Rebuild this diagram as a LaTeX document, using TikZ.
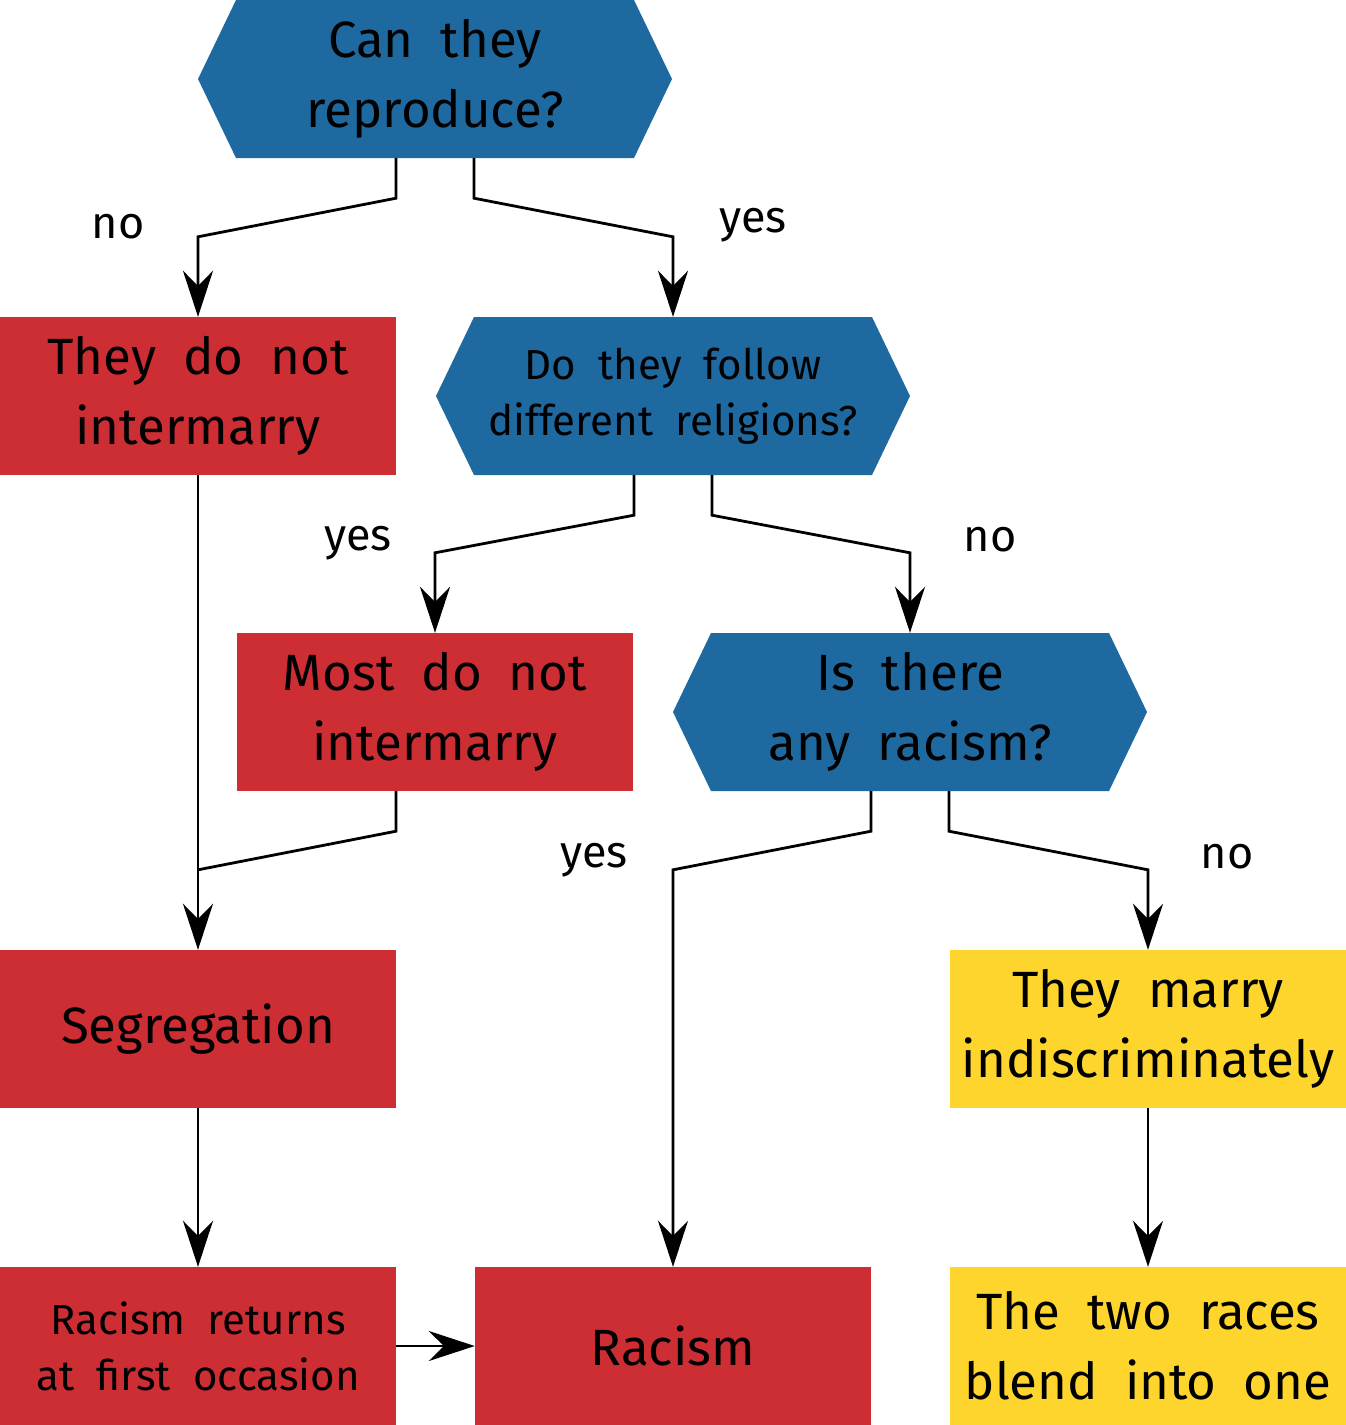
\documentclass[tikz,border=0pt]{standalone}
\usepackage{fontspec}
\setmainfont{Fira Sans}[WordSpace=2.0]
\usetikzlibrary{arrows.meta}
\definecolor{qblue}{HTML}{1F69A1}
\definecolor{qred}{HTML}{CC2E34}
\definecolor{qyellow}{HTML}{FDD52C}
\begin{document}
\begin{tikzpicture}[x=1pt,y=-1pt,
  box/.style={rectangle, minimum width=396pt, minimum height=158pt, inner sep=0pt, align=center, font=\fontsize{51}{70}\selectfont},
  smalltext/.style={font=\fontsize{42}{56}\selectfont},
  redbox/.style={box, fill=qred},
  yelbox/.style={box, fill=qyellow},
  hexbox/.style={box, minimum width=474pt, fill=white,
    path picture={\fill[qblue] (path picture bounding box.west)
      -- ([xshift=38pt]path picture bounding box.north west)
      -- ([xshift=-38pt]path picture bounding box.north east)
      -- (path picture bounding box.east)
      -- ([xshift=-38pt]path picture bounding box.south east)
      -- ([xshift=38pt]path picture bounding box.south west) -- cycle;}},
  link/.style={line width=2.8pt, line join=miter},
  conn/.style={link, -{Stealth[length=46pt,width=30pt,inset=15pt]}},
  lab/.style={font=\fontsize{45}{50}\selectfont, inner sep=0pt}
]
\useasboundingbox (0,0) rectangle (1346,1425);

\node[hexbox] (q1) at (435,79) {Can they\\reproduce?};
\node[redbox] (t1) at (198,396) {They do not\\intermarry};
\node[hexbox, smalltext] (q2) at (673,396) {Do they follow\\different religions?};
\node[redbox] (m) at (435,712) {Most do not\\intermarry};
\node[hexbox] (q3) at (910,712) {Is there\\any racism?};
\node[redbox] (seg) at (198,1029) {Segregation};
\node[yelbox] (marry) at (1148,1029) {They marry\\indiscriminately};
\node[redbox, smalltext] (ret) at (198,1346) {Racism returns\\at first occasion};
\node[redbox] (rac) at (673,1346) {Racism};
\node[yelbox] (blend) at (1148,1346) {The two races\\blend into one};

\draw[conn] ([xshift=-39pt]q1.south) -- ++(0,40) -- ([yshift=80pt]t1.north) -- (t1.north);
\draw[conn] ([xshift=39pt]q1.south) -- ++(0,40) -- ([yshift=80pt]q2.north) -- (q2.north);
\draw[conn] ([xshift=-39pt]q2.south) -- ++(0,40) -- ([yshift=80pt]m.north) -- (m.north);
\draw[conn] ([xshift=39pt]q2.south) -- ++(0,40) -- ([yshift=80pt]q3.north) -- (q3.north);
\draw[conn] ([xshift=-39pt]q3.south) -- ++(0,40) -- ([yshift=397pt]rac.north) -- (rac.north);
\draw[conn] ([xshift=39pt]q3.south) -- ++(0,40) -- ([yshift=80pt]marry.north) -- (marry.north);
\draw[conn] (t1.south) -- (seg.north);
\draw[link] ([xshift=-39pt]m.south) -- ++(0,40) -- ([yshift=80pt]seg.north);
\draw[conn] (seg.south) -- (ret.north);
\draw[conn] (marry.south) -- (blend.north);
\draw[conn] (ret.east) -- (rac.west);

\node[lab] (l1) at (118,227) {no};
\node[lab] (l2) at (753,225) {yes};
\node[lab] (l3) at (358,543) {yes};
\node[lab] (l4) at (990,540) {no};
\node[lab] (l5) at (594,860) {yes};
\node[lab] (l6) at (1227,857) {no};
\end{tikzpicture}
\end{document}
